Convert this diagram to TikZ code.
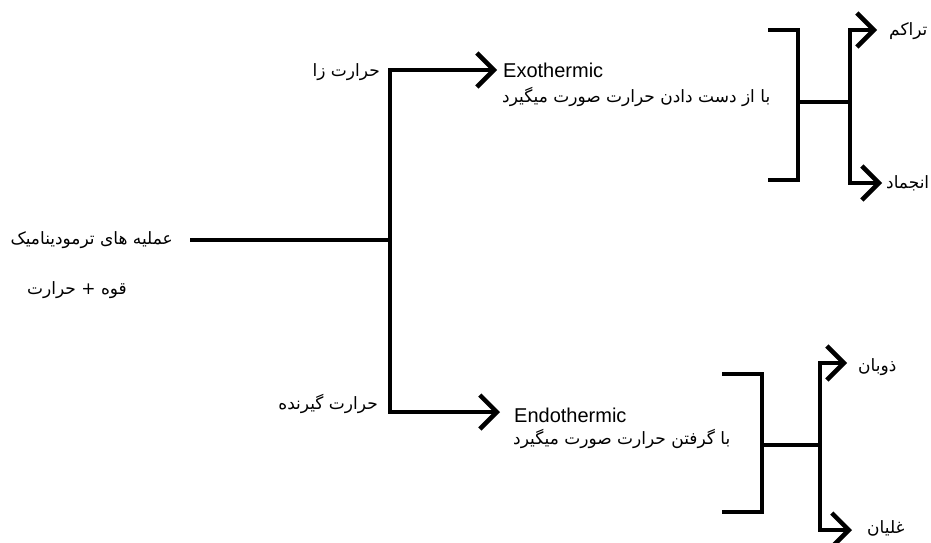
\documentclass[tikz,border=0pt]{standalone}
\usepackage{fontspec}
\setmainfont{Liberation Sans}
\newfontfamily\arabicfont[Script=Arabic]{DejaVu Sans}
\TeXXeTstate=1
\usetikzlibrary{arrows.meta}
\begin{document}
\begin{tikzpicture}[x=1pt,y=-1pt,
  ln/.style={line width=4.5pt, line cap=butt, line join=miter},
  barb/.tip={Straight Barb[length=17pt,width=34pt,line width=4.5pt]},
  fa/.style={font=\arabicfont\fontsize{17}{19}\selectfont, inner sep=0pt},
  en/.style={font=\fontsize{20}{23}\selectfont, inner sep=0pt}]
\useasboundingbox[fill=white] (0,0) rectangle (931,542);

% left texts
\node[fa, anchor=east] (title) at (173,240) {\beginR عملیه های ترمودینامیک\endR};
\node[fa] (sub) at (77,290) {\beginR قوه + حرارت\endR};

% main tree
\coordinate (start) at (190,240);
\coordinate (j) at (390,240);
\coordinate (topc) at (390,70);
\coordinate (botc) at (390,412);
\coordinate (exotip) at (497,70);
\coordinate (endotip) at (500,412);
\draw[ln] (start) -- (j);
\draw[ln, barb-barb] (exotip) -- (topc) -- (botc) -- (endotip);

\node[fa, anchor=east] (hot) at (380,72) {\beginR حرارت زا\endR};
\node[fa, anchor=east] (cold) at (378,404) {\beginR حرارت گیرنده\endR};

% exothermic
\node[en, anchor=west] (exo) at (503,70) {Exothermic};
\node[fa, anchor=west] (exofa) at (502,97) {\beginR با از دست دادن حرارت صورت میگیرد\endR};

% endothermic
\node[en, anchor=west] (endo) at (514,415) {Endothermic};
\node[fa, anchor=west] (endofa) at (513,439) {\beginR با گرفتن حرارت صورت میگیرد\endR};

% top-right bracket
\coordinate (b1a) at (768,30);
\coordinate (b1b) at (798,30);
\coordinate (b1c) at (798,180);
\coordinate (b1d) at (768,180);
\coordinate (b1m) at (798,102);
\coordinate (b1n) at (850,102);
\coordinate (b1t) at (850,30);
\coordinate (b1u) at (850,183);
\coordinate (b1tt) at (877,30);
\coordinate (b1ut) at (882,183);
\draw[ln] (b1a) -- (b1b) -- (b1c) -- (b1d);
\draw[ln] (b1m) -- (b1n);
\draw[ln, barb-barb] (b1tt) -- (b1t) -- (b1u) -- (b1ut);
\node[fa, anchor=west] (cond) at (889,31) {\beginR تراکم\endR};
\node[fa, anchor=west] (freeze) at (886,183) {\beginR انجماد\endR};

% bottom-right bracket
\coordinate (b2a) at (722,374);
\coordinate (b2b) at (762,374);
\coordinate (b2c) at (762,512);
\coordinate (b2d) at (722,512);
\coordinate (b2m) at (762,445);
\coordinate (b2n) at (820,445);
\coordinate (b2t) at (820,363);
\coordinate (b2u) at (820,530);
\coordinate (b2tt) at (847,363);
\coordinate (b2ut) at (852,530);
\draw[ln] (b2a) -- (b2b) -- (b2c) -- (b2d);
\draw[ln] (b2m) -- (b2n);
\draw[ln, barb-barb] (b2tt) -- (b2t) -- (b2u) -- (b2ut);
\node[fa, anchor=west] (melt) at (858,367) {\beginR ذوبان\endR};
\node[fa, anchor=west] (boil) at (867,528) {\beginR غلیان\endR};
\end{tikzpicture}
\end{document}
